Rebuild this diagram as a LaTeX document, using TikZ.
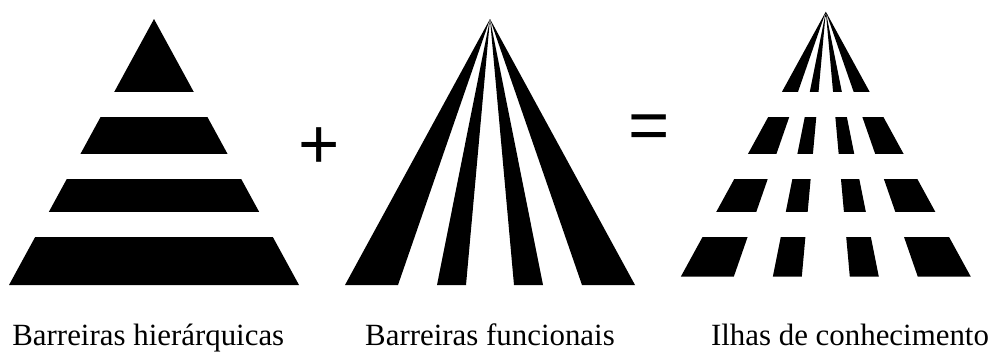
\documentclass[tikz,border=0pt]{standalone}
\usepackage{fontspec}
\setmainfont{Liberation Serif}
\newfontfamily\signfont{Liberation Sans}

\begin{document}
\begin{tikzpicture}[x=1bp, y=-1bp]
  \tikzset{
    caption/.style={font=\fontsize{31}{36}\selectfont, anchor=base, inner sep=0pt},
    opsign/.style={font=\signfont\fontsize{71}{80}\selectfont, anchor=base, inner sep=0pt}
  }
  \useasboundingbox (0,0) rectangle (995,351);

  % Barreiras hierarquicas
  \begin{scope}
    \clip (154,19) -- (299,285) -- (9,285) -- cycle;
    \foreach \top/\bot in {0/91.7, 116.7/154, 179/212, 236.7/300}
      \fill (0,\top) rectangle (320,\bot);
  \end{scope}

  % Barreiras funcionais
  \foreach \l/\r in {-145/-92, -53/-24, 24/53, 92/145}
    \fill (490,19) -- ({490+\r},285) -- ({490+\l},285) -- cycle;

  % Ilhas de conhecimento
  \begin{scope}
    \clip foreach \l/\r in {-145/-92, -53/-24, 24/53, 92/145}
      {(825.8,11.7) -- ({825.8+\r},276.7) -- ({825.8+\l},276.7) -- cycle};
    \foreach \top/\bot in {0/91.7, 116.7/154, 179/212, 236.7/300}
      \fill (670,\top) rectangle (990,\bot);
  \end{scope}

  % Operators
  \node[opsign] (plus) at (319.2,168.6) {+};
  \node[opsign] (equals) at (649.2,149.4) {=};

  % Captions
  \node[caption] (hiercap) at (148.3,345.2) {Barreiras hierárquicas};
  \node[caption] (funccap) at (490,345.2) {Barreiras funcionais};
  \node[caption] (islecap) at (850,345.2) {Ilhas de conhecimento};
\end{tikzpicture}
\end{document}
